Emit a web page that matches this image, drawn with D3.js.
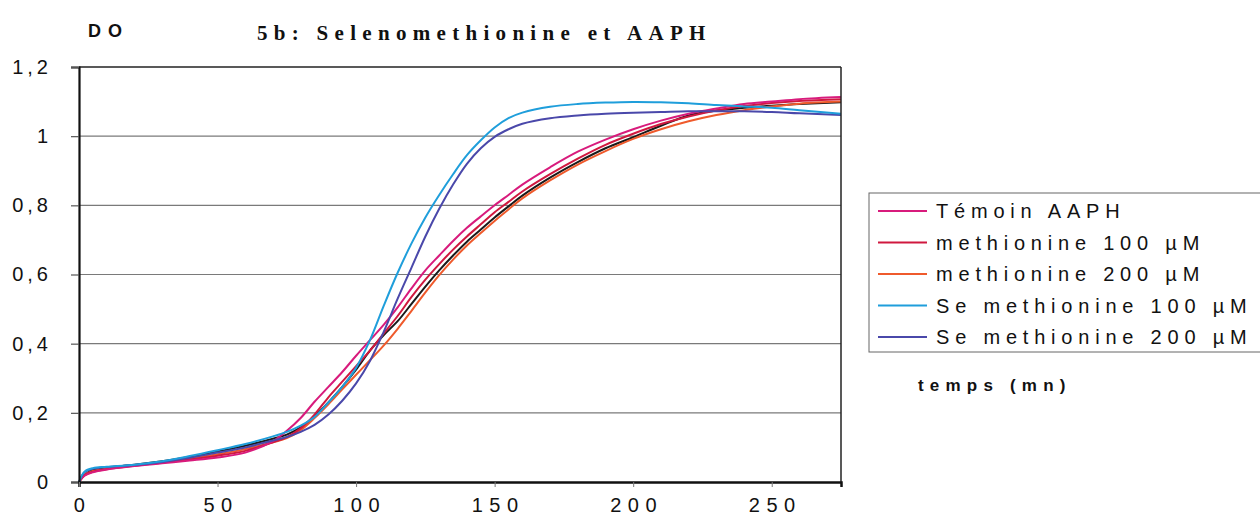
<!DOCTYPE html>
<html><head><meta charset="utf-8">
<script src="https://cdn.jsdelivr.net/npm/d3@7"></script>
<style>body{margin:0;background:#fff}svg{display:block}</style>
</head><body>
<svg id="c" width="1260" height="526"></svg>
<script>
const times = [0,2,5,10,20,30,40,50,60,70,75,80,85,90,95,100,105,110,115,120,125,130,135,140,145,150,155,160,170,180,190,200,210,220,230,240,250,260,275];
const temoinAAPH = [0,0.018,0.028,0.036,0.046,0.054,0.062,0.071,0.085,0.118,0.148,0.185,0.232,0.275,0.318,0.365,0.41,0.455,0.505,0.56,0.612,0.655,0.697,0.735,0.768,0.80,0.83,0.86,0.91,0.955,0.99,1.02,1.045,1.065,1.08,1.093,1.10,1.107,1.113];
const methionine100 = [0,0.02,0.03,0.037,0.047,0.056,0.065,0.076,0.09,0.115,0.13,0.155,0.195,0.245,0.29,0.335,0.38,0.43,0.48,0.535,0.585,0.63,0.672,0.71,0.745,0.78,0.81,0.84,0.89,0.935,0.975,1.007,1.035,1.057,1.074,1.087,1.096,1.102,1.107];
const methionine200 = [0,0.02,0.032,0.038,0.048,0.058,0.068,0.08,0.095,0.115,0.127,0.15,0.185,0.225,0.268,0.31,0.352,0.395,0.443,0.495,0.548,0.598,0.643,0.684,0.72,0.755,0.788,0.82,0.872,0.918,0.957,0.992,1.02,1.043,1.061,1.075,1.086,1.094,1.10];
const seMethionine100 = [0,0.03,0.04,0.044,0.05,0.06,0.075,0.092,0.11,0.132,0.145,0.163,0.188,0.23,0.275,0.33,0.41,0.51,0.605,0.69,0.765,0.83,0.89,0.945,0.988,1.025,1.052,1.068,1.085,1.093,1.097,1.099,1.098,1.095,1.09,1.086,1.082,1.075,1.065];
const seMethionine200 = [0,0.028,0.038,0.043,0.049,0.058,0.07,0.085,0.1,0.12,0.13,0.145,0.165,0.195,0.235,0.285,0.35,0.435,0.53,0.62,0.71,0.79,0.86,0.92,0.965,0.998,1.02,1.036,1.052,1.06,1.065,1.068,1.07,1.072,1.072,1.072,1.07,1.066,1.061];
const blackSeries = [0,0.02,0.035,0.042,0.05,0.06,0.072,0.088,0.105,0.125,0.137,0.158,0.19,0.23,0.275,0.325,0.38,0.425,0.465,0.515,0.565,0.612,0.655,0.695,0.73,0.765,0.797,0.828,0.88,0.925,0.965,0.997,1.03,1.06,1.074,1.082,1.088,1.093,1.098];

const seriesNames = ["Témoin AAPH","methionine 100 µM","methionine 200 µM","Se methionine 100 µM","Se methionine 200 µM"];
const seriesValues = [temoinAAPH, methionine100, methionine200, seMethionine100, seMethionine200];
const seriesColors = ["#d81b7c","#d0183f","#ef5a2c","#1f9edb","#4a48aa"];
const yTicks = [0,0.2,0.4,0.6,0.8,1,1.2];
const yTickLabels = ["0","0,2","0,4","0,6","0,8","1","1,2"];
const xTicks = [0,50,100,150,200,250];
const xTickLabels = ["0","50","100","150","200","250"];

const svg = d3.select("#c");
const L = 79, R = 841, T = 67, B = 482;
const x = d3.scaleLinear().domain([0,275]).range([L,R]);
const y = d3.scaleLinear().domain([0,1.2]).range([B,T]);
const font = "Arial, 'Liberation Sans', sans-serif";

// gridlines
svg.append("g").selectAll("line").data(yTicks.filter(d=>d>0 && d<1.2)).join("line")
  .attr("x1",L).attr("x2",R).attr("y1",d=>y(d)).attr("y2",d=>y(d))
  .attr("stroke","#7a7a7a").attr("stroke-width",1.2);

// lines
const line = d3.line().x((d,i)=>x(times[i])).y(d=>y(d)).curve(d3.curveCatmullRom.alpha(0.5));
svg.append("path").datum(blackSeries).attr("d",line).attr("fill","none").attr("stroke","#1a1a1a").attr("stroke-width",2);
const order = [2,1,0,4,3];
order.forEach(i=>{
  svg.append("path").datum(seriesValues[i]).attr("d",line).attr("fill","none")
    .attr("stroke",seriesColors[i]).attr("stroke-width",2);
});

// frame
svg.append("line").attr("x1",L).attr("x2",R).attr("y1",T).attr("y2",T).attr("stroke","#222").attr("stroke-width",1.5);
svg.append("line").attr("x1",R).attr("x2",R).attr("y1",T).attr("y2",B).attr("stroke","#222").attr("stroke-width",1.5);

// y axis
const yAxis = d3.axisLeft(y).tickValues(yTicks).tickSize(8).tickFormat((d,i)=>yTickLabels[i]);
const gy = svg.append("g").attr("transform",`translate(${L},0)`).call(yAxis);
gy.select(".domain").attr("stroke","#111").attr("stroke-width",2.2);
gy.selectAll(".tick line").attr("stroke","#555").attr("stroke-width",1.2);
gy.selectAll("text").attr("x",-27).attr("font-family",font).attr("font-size",20).attr("letter-spacing","4px").attr("fill","#111");

// x axis
const xAxis = d3.axisBottom(x).tickValues(xTicks).tickSize(5).tickFormat((d,i)=>xTickLabels[i]);
const gx = svg.append("g").attr("transform",`translate(0,${B})`).call(xAxis);
gx.select(".domain").attr("stroke","#111").attr("stroke-width",2.5);
gx.selectAll(".tick line").attr("stroke","#777").attr("stroke-width",1);
gx.selectAll("text").attr("y",16).attr("font-family",font).attr("font-size",20).attr("letter-spacing","6.5px").attr("dx","3px").attr("fill","#111");

// titles
svg.append("text").attr("x",88).attr("y",37).text("DO").attr("font-family",font).attr("font-weight","bold").attr("font-size",18).attr("letter-spacing","7px").attr("fill","#111");
svg.append("text").attr("x",257).attr("y",40).text("5b: Selenomethionine et AAPH").attr("font-family","'Liberation Serif','Times New Roman',serif").attr("font-weight","bold").attr("font-size",21).attr("letter-spacing","6.3px").attr("fill","#111");
svg.append("text").attr("x",918).attr("y",391).text("temps (mn)").attr("font-family",font).attr("font-weight","bold").attr("font-size",17).attr("letter-spacing","6.2px").attr("fill","#111");

// legend
svg.append("rect").attr("x",869).attr("y",193).attr("width",400).attr("height",159).attr("fill","none").attr("stroke","#666").attr("stroke-width",1);
const lg = svg.append("g").selectAll("g").data(seriesNames).join("g")
  .attr("transform",(d,i)=>`translate(0,${211+i*31.5})`);
lg.append("line").attr("x1",878).attr("x2",927).attr("stroke",(d,i)=>seriesColors[i]).attr("stroke-width",2);
lg.append("text").attr("x",936).attr("y",7).text(d=>d).attr("font-family",font).attr("font-size",20).attr("letter-spacing","5.8px").attr("fill","#111");
</script>
</body></html>
